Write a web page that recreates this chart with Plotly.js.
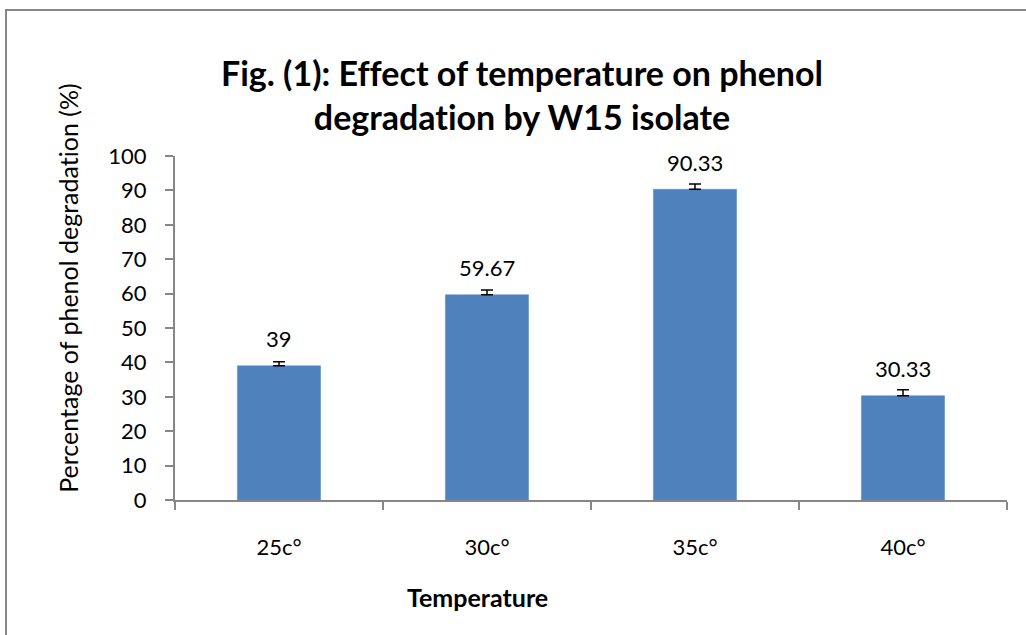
<!DOCTYPE html>
<html>
<head>
<meta charset="utf-8">
<script src="https://cdn.plot.ly/plotly-3.0.1.min.js"></script>
<style>
html,body{margin:0;padding:0;background:#fff;}
#chart{width:1026px;height:635px;}
#chart text{font-variant-ligatures:none;font-feature-settings:"liga" 0;}
</style>
</head>
<body>
<div id="chart"></div>
<script>
const categories = ["25c°", "30c°", "35c°", "40c°"];
const values = [39, 59.67, 90.33, 30.33];
const errorsPlus = [1.2, 1.4, 1.5, 1.7];
const labels = ["39", "59.67", "90.33", "30.33"];
const yTicks = [0, 10, 20, 30, 40, 50, 60, 70, 80, 90, 100];
const titleLines = ["Fig. (1): Effect of temperature on phenol", "degradation by W15 isolate"];

const FONT = "Lato, 'Open Sans', sans-serif";
const axisColor = "#868686";

const trace = {
  type: "bar",
  x: categories,
  y: values,
  width: 0.4,
  marker: {color: "#4F81BD", line: {color: "#5A8AC6", width: 0.5}},
  error_y: {
    type: "data",
    symmetric: false,
    array: errorsPlus,
    arrayminus: values.map(() => 0),
    color: "#000000",
    thickness: 1.5,
    width: 6
  },
  hoverinfo: "skip"
};

const annotations = categories.map((c, i) => ({
  x: c, y: values[i], xref: "x", yref: "y",
  text: labels[i], showarrow: false,
  yanchor: "middle", yshift: 27,
  font: {family: FONT, size: 22, color: "#000"}
}));

annotations.push({
  xref: "paper", yref: "paper",
  x: (68 - 175) / 832, y: (500 - 288) / 344,
  text: "Percentage of phenol degradation (%)",
  textangle: -90, showarrow: false,
  xanchor: "center", yanchor: "middle",
  font: {family: FONT, size: 25, color: "#000"}
});
annotations.push({
  xref: "paper", yref: "paper",
  x: (477 - 175) / 832, y: (500 - 597) / 344,
  text: "<b>Temperature</b>", showarrow: false,
  xanchor: "center", yanchor: "middle",
  font: {family: FONT, size: 25, color: "#000"}
});

const layout = {
  width: 1026, height: 635,
  margin: {l: 175, r: 19, t: 156, b: 135},
  paper_bgcolor: "#fff", plot_bgcolor: "#fff",
  showlegend: false,
  title: {
    text: "<b>" + titleLines.join("<br>") + "</b>",
    x: 522 / 1026, xanchor: "center",
    y: 1 - 86 / 635, yanchor: "middle",
    font: {family: FONT, size: 34, color: "#000"}
  },
  xaxis: {
    type: "category",
    showline: true, linecolor: axisColor, linewidth: 2,
    ticks: "outside", tickson: "boundaries", ticklen: 8, tickwidth: 2, tickcolor: axisColor,
    showgrid: false, zeroline: false,
    tickfont: {family: FONT, size: 22, color: "#000"},
    ticklabelstandoff: 27
  },
  yaxis: {
    range: [0, 100],
    tickvals: yTicks,
    showline: true, linecolor: axisColor, linewidth: 2,
    ticks: "outside", ticklen: 8, tickwidth: 2, tickcolor: axisColor,
    showgrid: false, zeroline: false,
    tickfont: {family: FONT, size: 22, color: "#000"},
    ticklabelstandoff: 14
  },
  annotations: annotations,
  shapes: [{
    type: "path", xref: "paper", yref: "paper",
    path: "M " + ((6 - 175) / 832) + " " + (-0.6) + " L " + ((6 - 175) / 832) + " " + ((500 - 10) / 344) + " L 1.2 " + ((500 - 10) / 344),
    line: {color: axisColor, width: 2}
  }]
};

Plotly.newPlot("chart", [trace], layout, {displayModeBar: false, staticPlot: true});
</script>
</body>
</html>
